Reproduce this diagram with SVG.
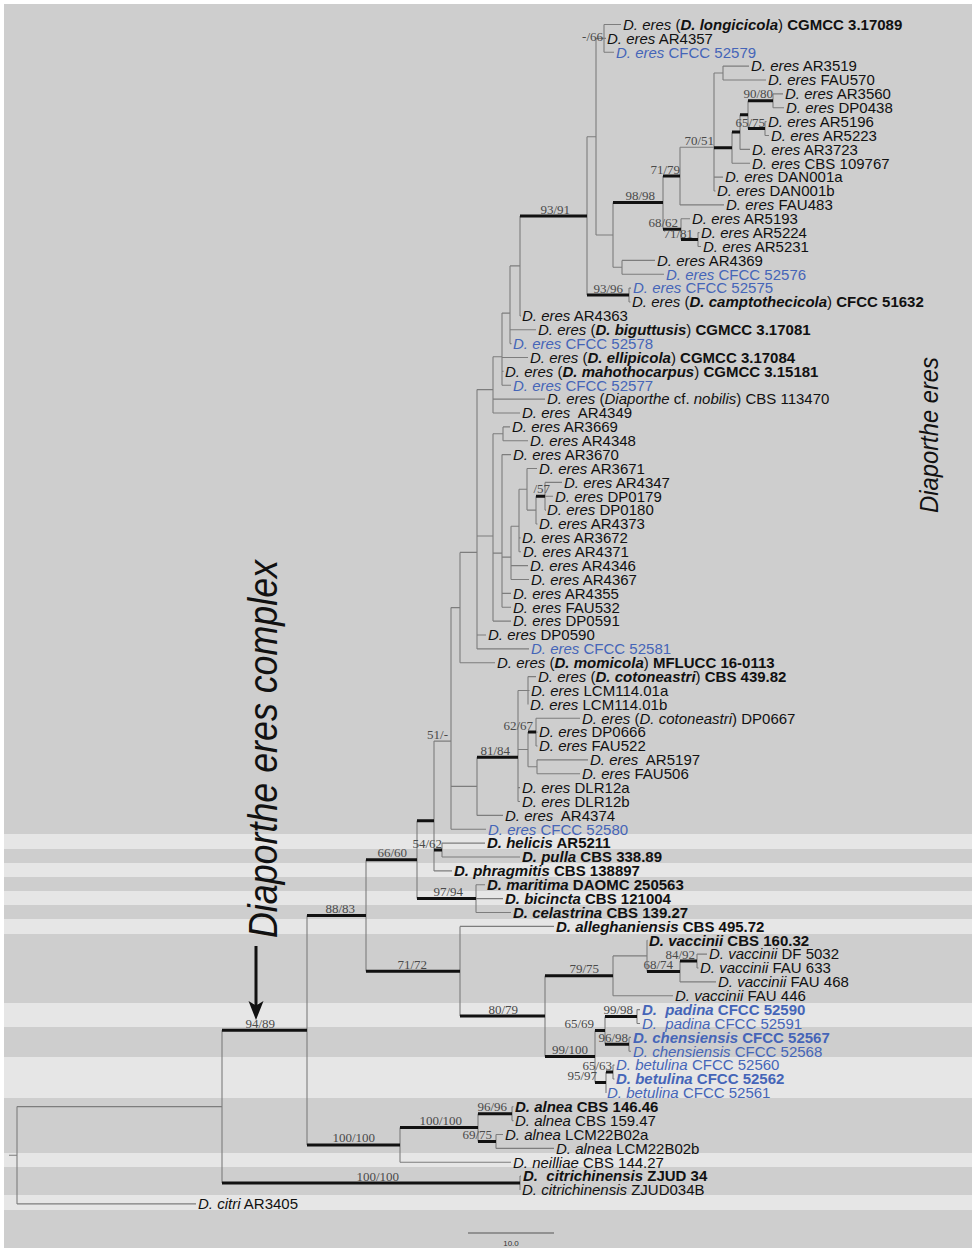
<svg xmlns="http://www.w3.org/2000/svg" width="976" height="1251" viewBox="0 0 976 1251">
<style>
.t{font-family:"Liberation Sans",Arial,sans-serif;font-size:15px;fill:#111;white-space:pre}
.bl{fill:#4565b8}
.i{font-style:italic}
.bi{font-style:italic;font-weight:bold}
.bd{font-weight:bold}
.s{font-family:"Liberation Serif","Times New Roman",serif;font-size:13px;fill:#4a4a4a;text-anchor:end}
.thin{fill:none;stroke:#7d7d7d;stroke-width:1.1}
.thick{fill:none;stroke:#111;stroke-width:3}
.dark{fill:#cecece}
.light{fill:#e6e6e6}
.big{font-family:"Liberation Sans",Arial,sans-serif;font-style:italic;font-size:40px;fill:#111}
.mid{font-family:"Liberation Sans",Arial,sans-serif;font-style:italic;font-size:25px;fill:#111}
</style>
<rect x="0" y="0" width="976" height="1251" fill="#ffffff"/>
<g id="background">
<rect class="dark" x="4" y="4" width="968" height="1244"/>
<rect class="light" x="4" y="834" width="968" height="15"/>
<rect class="light" x="4" y="863" width="968" height="14"/>
<rect class="light" x="4" y="891" width="968" height="14"/>
<rect class="light" x="4" y="919" width="968" height="15"/>
<rect class="light" x="4" y="1003" width="968" height="24"/>
<rect class="light" x="4" y="1057" width="968" height="41"/>
<rect class="light" x="4" y="1153" width="968" height="14"/>
<rect class="light" x="4" y="1195" width="968" height="15"/>
</g>
<g id="connectors">
<path class="thin" d="M604 24.5V52.3M723 66.1V80M773 93.9V107.8M765 121.6V135.5M748 100.8V128.6M740 114.7V149.4M732 132V163.3M714 73V191M680 147.2V204.9M698 232.6V246.5M681 218.8V239.6M663 176V229.2M622 260.4V274.3M613 202.6V267.3M596 38.4V235M629 288.1V302M587 136.7V295M520 215.9V315.9M510 265.9V343.6M502 313.1V385.3M493 356.8V413M503 426.9V440.8M545 482.4V510.1M536 496.3V524M527 468.5V510.1M519 489.3V551.8M511 526.3V579.5M502 454.6V607.3M493 433.8V621.1M477 389.6V648.9M460 552.4V662.8M451 607.6V829.3M528 676.6V704.4M536 718.3V746M537 759.9V773.8M528 732.1V766.8M518 690.5V801.5M477 757.3V815.4M434 741.1V870.9M442 843.1V857M476 884.8V912.5M417 820.7V898.6M366 859.7V971.3M697 954.1V968M680 961.1V981.9M647 940.3V971.5M613 955.9V995.8M637 1009.6V1023.5M629 1037.4V1051.3M605 1016.6V1044.3M613 1065.1V1079M606 1072.1V1092.9M595 1030.4V1082.5M545 975.8V1056.5M460 926.4V1016.1M307 915.5V1144.9M512 1106.8V1120.6M496 1134.5V1148.4M478 1113.7V1141.5M400 1127.6V1162.3M520 1176.1V1190M222 1030.2V1183.1M17 1106.6V1203.9"/>
<path class="thin" d="M596 38.4H604M714 73H723M680 147.2H714M613 267.3H622M596 235H613M587 136.7H596M510 265.9H520M502 313.1H510M493 356.8H502M477 389.6H493M493 433.8H503M527 510.1H536M519 489.3H527M511 526.3H519M502 557.1H511M493 553.1H502M477 536H493M460 552.4H477M451 607.6H460M518 690.5H528M528 766.8H537M518 749.5H528M451 786.4H477M434 741.1H451M613 955.9H647M17 1106.6H222M9 1155.3H17"/>
<path class="thin" d="M604 24.5H621M604 38.4H606M604 52.3H614M723 66.1H749M723 80H766M773 93.9H783M773 107.8H784M765 121.6H766.5M765 135.5H769M740 149.4H750M732 163.3H750M714 177.1H723M714 191H715.5M680 204.9H724M681 218.8H690M698 232.6H699.5M698 246.5H701M622 260.4H655M622 274.3H664M629 288.1H631M629 302H630.5M520 315.9H521M510 329.8H536M510 343.6H511.5M502 357.5H528M502 371.4H503.5M502 385.3H511M493 399.1H545M493 413H520M503 426.9H510M503 440.8H528M502 454.6H511M527 468.5H537M545 482.4H562M545 496.3H553M545 510.1H546M536 524H537.5M519 537.9H520.5M519 551.8H521M511 565.6H528M511 579.5H529M502 593.4H511M502 607.3H511M493 621.1H511M477 635H486M477 648.9H529M460 662.8H495M528 676.6H536M528 690.5H529.5M536 718.3H580M536 732.1H537.5M536 746H537.5M537 759.9H588M537 773.8H580M518 787.6H520M518 801.5H520M477 815.4H503M451 829.3H486M442 843.1H485M442 857H520M434 870.9H452M476 884.8H485M476 898.6H503M476 912.5H511M460 926.4H554M647 940.3H647.5M697 954.1H707M697 968H698.5M680 981.9H716M613 995.8H673M637 1009.6H640M637 1023.5H640M629 1037.4H631M629 1051.3H631M613 1065.1H614.5M613 1079H614.5M512 1106.8H513.5M512 1120.6H513.5M496 1134.5H503M496 1148.4H554M400 1162.3H511M520 1176.1H521M17 1203.9H196"/>
<path class="thick" d="M748 100.8H773M748 128.6H765M740 114.7H748M732 132H740M714 147.7H732M663 176H680M681 239.6H698M663 229.2H681M613 202.6H663M587 295H629M520 215.9H587M536 496.3H545M528 732.1H536M477 757.3H518M434 850.1H442M417 820.7H434M417 898.6H476M366 859.7H417M680 961.1H697M647 971.5H680M545 975.8H613M605 1016.6H637M605 1044.3H629M595 1030.4H605M606 1072.1H613M595 1082.5H606M545 1056.5H595M460 1016.1H545M366 971.3H460M307 915.5H366M478 1113.7H512M478 1141.5H496M400 1127.6H478M307 1144.9H400M222 1030.2H307M222 1183.1H520"/>
</g>
<g id="support">
<text class="s" x="603" y="41">-/66</text>
<text class="s" x="773" y="98">90/80</text>
<text class="s" x="765" y="126.5">65/75</text>
<text class="s" x="714" y="144.5">70/51</text>
<text class="s" x="680" y="173.5">71/79</text>
<text class="s" x="655" y="200">98/98</text>
<text class="s" x="678" y="226.5">68/62</text>
<text class="s" x="693" y="237.5">71/81</text>
<text class="s" x="623" y="292.5">93/96</text>
<text class="s" x="570" y="213.5">93/91</text>
<text class="s" x="550" y="493">/57</text>
<text class="s" x="533" y="729.6">62/67</text>
<text class="s" x="510" y="755">81/84</text>
<text class="s" x="448" y="738.6">51/-</text>
<text class="s" x="442" y="847.5">54/62</text>
<text class="s" x="407" y="857">66/60</text>
<text class="s" x="463" y="896">97/94</text>
<text class="s" x="355" y="913">88/83</text>
<text class="s" x="427" y="968.7">71/72</text>
<text class="s" x="518" y="1013.6">80/79</text>
<text class="s" x="599" y="973.3">79/75</text>
<text class="s" x="695" y="958.5">84/92</text>
<text class="s" x="673" y="969">68/74</text>
<text class="s" x="588" y="1054">99/100</text>
<text class="s" x="594" y="1028">65/69</text>
<text class="s" x="633" y="1014">99/98</text>
<text class="s" x="628" y="1041.8">96/98</text>
<text class="s" x="612" y="1069.5">65/63</text>
<text class="s" x="597" y="1080">95/97</text>
<text class="s" x="275" y="1027.7">94/89</text>
<text class="s" x="375" y="1142.4">100/100</text>
<text class="s" x="462" y="1125">100/100</text>
<text class="s" x="507" y="1111">96/96</text>
<text class="s" x="492" y="1138.5">69/75</text>
<text class="s" x="399" y="1180.5">100/100</text>
</g>
<g id="tip-0"><text class="t" x="623" y="29.8"><tspan class="i">D. eres</tspan> (<tspan class="bi">D. longicicola</tspan>) <tspan class="bd">CGMCC 3.17089</tspan></text></g>
<g id="tip-1"><text class="t" x="607" y="43.7"><tspan class="i">D. eres</tspan> AR4357</text></g>
<g id="tip-2"><text class="t bl" x="616" y="57.6"><tspan class="i">D. eres</tspan> CFCC 52579</text></g>
<g id="tip-3"><text class="t" x="751" y="71.4"><tspan class="i">D. eres</tspan> AR3519</text></g>
<g id="tip-4"><text class="t" x="768" y="85.3"><tspan class="i">D. eres</tspan> FAU570</text></g>
<g id="tip-5"><text class="t" x="785" y="99.2"><tspan class="i">D. eres</tspan> AR3560</text></g>
<g id="tip-6"><text class="t" x="786" y="113.1"><tspan class="i">D. eres</tspan> DP0438</text></g>
<g id="tip-7"><text class="t" x="768" y="126.9"><tspan class="i">D. eres</tspan> AR5196</text></g>
<g id="tip-8"><text class="t" x="771" y="140.8"><tspan class="i">D. eres</tspan> AR5223</text></g>
<g id="tip-9"><text class="t" x="752" y="154.7"><tspan class="i">D. eres</tspan> AR3723</text></g>
<g id="tip-10"><text class="t" x="752" y="168.6"><tspan class="i">D. eres</tspan> CBS 109767</text></g>
<g id="tip-11"><text class="t" x="725" y="182.4"><tspan class="i">D. eres</tspan> DAN001a</text></g>
<g id="tip-12"><text class="t" x="717" y="196.3"><tspan class="i">D. eres</tspan> DAN001b</text></g>
<g id="tip-13"><text class="t" x="726" y="210.2"><tspan class="i">D. eres</tspan> FAU483</text></g>
<g id="tip-14"><text class="t" x="692" y="224.1"><tspan class="i">D. eres</tspan> AR5193</text></g>
<g id="tip-15"><text class="t" x="701" y="237.9"><tspan class="i">D. eres</tspan> AR5224</text></g>
<g id="tip-16"><text class="t" x="703" y="251.8"><tspan class="i">D. eres</tspan> AR5231</text></g>
<g id="tip-17"><text class="t" x="657" y="265.7"><tspan class="i">D. eres</tspan> AR4369</text></g>
<g id="tip-18"><text class="t bl" x="666" y="279.6"><tspan class="i">D. eres</tspan> CFCC 52576</text></g>
<g id="tip-19"><text class="t bl" x="633" y="293.4"><tspan class="i">D. eres</tspan> CFCC 52575</text></g>
<g id="tip-20"><text class="t" x="632" y="307.3"><tspan class="i">D. eres</tspan> (<tspan class="bi">D. camptothecicola</tspan>) <tspan class="bd">CFCC 51632</tspan></text></g>
<g id="tip-21"><text class="t" x="522" y="321.2"><tspan class="i">D. eres</tspan> AR4363</text></g>
<g id="tip-22"><text class="t" x="538" y="335.1"><tspan class="i">D. eres</tspan> (<tspan class="bi">D. biguttusis</tspan>) <tspan class="bd">CGMCC 3.17081</tspan></text></g>
<g id="tip-23"><text class="t bl" x="513" y="348.9"><tspan class="i">D. eres</tspan> CFCC 52578</text></g>
<g id="tip-24"><text class="t" x="530" y="362.8"><tspan class="i">D. eres</tspan> (<tspan class="bi">D. ellipicola</tspan>) <tspan class="bd">CGMCC 3.17084</tspan></text></g>
<g id="tip-25"><text class="t" x="505" y="376.7"><tspan class="i">D. eres</tspan> (<tspan class="bi">D. mahothocarpus</tspan>) <tspan class="bd">CGMCC 3.15181</tspan></text></g>
<g id="tip-26"><text class="t bl" x="513" y="390.6"><tspan class="i">D. eres</tspan> CFCC 52577</text></g>
<g id="tip-27"><text class="t" x="547" y="404.4"><tspan class="i">D. eres</tspan> (<tspan class="i">Diaporthe</tspan> cf. <tspan class="i">nobilis</tspan>) CBS 113470</text></g>
<g id="tip-28"><text class="t" x="522" y="418.3"><tspan class="i">D. eres</tspan>  AR4349</text></g>
<g id="tip-29"><text class="t" x="512" y="432.2"><tspan class="i">D. eres</tspan> AR3669</text></g>
<g id="tip-30"><text class="t" x="530" y="446.1"><tspan class="i">D. eres</tspan> AR4348</text></g>
<g id="tip-31"><text class="t" x="513" y="459.9"><tspan class="i">D. eres</tspan> AR3670</text></g>
<g id="tip-32"><text class="t" x="539" y="473.8"><tspan class="i">D. eres</tspan> AR3671</text></g>
<g id="tip-33"><text class="t" x="564" y="487.7"><tspan class="i">D. eres</tspan> AR4347</text></g>
<g id="tip-34"><text class="t" x="555" y="501.6"><tspan class="i">D. eres</tspan> DP0179</text></g>
<g id="tip-35"><text class="t" x="547" y="515.4"><tspan class="i">D. eres</tspan> DP0180</text></g>
<g id="tip-36"><text class="t" x="539" y="529.3"><tspan class="i">D. eres</tspan> AR4373</text></g>
<g id="tip-37"><text class="t" x="522" y="543.2"><tspan class="i">D. eres</tspan> AR3672</text></g>
<g id="tip-38"><text class="t" x="523" y="557.1"><tspan class="i">D. eres</tspan> AR4371</text></g>
<g id="tip-39"><text class="t" x="530" y="570.9"><tspan class="i">D. eres</tspan> AR4346</text></g>
<g id="tip-40"><text class="t" x="531" y="584.8"><tspan class="i">D. eres</tspan> AR4367</text></g>
<g id="tip-41"><text class="t" x="513" y="598.7"><tspan class="i">D. eres</tspan> AR4355</text></g>
<g id="tip-42"><text class="t" x="513" y="612.6"><tspan class="i">D. eres</tspan> FAU532</text></g>
<g id="tip-43"><text class="t" x="513" y="626.4"><tspan class="i">D. eres</tspan> DP0591</text></g>
<g id="tip-44"><text class="t" x="488" y="640.3"><tspan class="i">D. eres</tspan> DP0590</text></g>
<g id="tip-45"><text class="t bl" x="531" y="654.2"><tspan class="i">D. eres</tspan> CFCC 52581</text></g>
<g id="tip-46"><text class="t" x="497" y="668.1"><tspan class="i">D. eres</tspan> (<tspan class="bi">D. momicola</tspan>) <tspan class="bd">MFLUCC 16-0113</tspan></text></g>
<g id="tip-47"><text class="t" x="538" y="681.9"><tspan class="i">D. eres</tspan> (<tspan class="bi">D. cotoneastri</tspan>) <tspan class="bd">CBS 439.82</tspan></text></g>
<g id="tip-48"><text class="t" x="531" y="695.8"><tspan class="i">D. eres</tspan> LCM114.01a</text></g>
<g id="tip-49"><text class="t" x="530" y="709.7"><tspan class="i">D. eres</tspan> LCM114.01b</text></g>
<g id="tip-50"><text class="t" x="582" y="723.6"><tspan class="i">D. eres</tspan> (<tspan class="i">D. cotoneastri</tspan>) DP0667</text></g>
<g id="tip-51"><text class="t" x="539" y="737.4"><tspan class="i">D. eres</tspan> DP0666</text></g>
<g id="tip-52"><text class="t" x="539" y="751.3"><tspan class="i">D. eres</tspan> FAU522</text></g>
<g id="tip-53"><text class="t" x="590" y="765.2"><tspan class="i">D. eres</tspan>  AR5197</text></g>
<g id="tip-54"><text class="t" x="582" y="779.1"><tspan class="i">D. eres</tspan> FAU506</text></g>
<g id="tip-55"><text class="t" x="522" y="792.9"><tspan class="i">D. eres</tspan> DLR12a</text></g>
<g id="tip-56"><text class="t" x="522" y="806.8"><tspan class="i">D. eres</tspan> DLR12b</text></g>
<g id="tip-57"><text class="t" x="505" y="820.7"><tspan class="i">D. eres</tspan>  AR4374</text></g>
<g id="tip-58"><text class="t bl" x="488" y="834.6"><tspan class="i">D. eres</tspan> CFCC 52580</text></g>
<g id="tip-59"><text class="t bd" x="487" y="848.4"><tspan class="i">D. helicis</tspan> AR5211</text></g>
<g id="tip-60"><text class="t bd" x="522" y="862.3"><tspan class="i">D. pulla</tspan> CBS 338.89</text></g>
<g id="tip-61"><text class="t bd" x="454" y="876.2"><tspan class="i">D. phragmitis</tspan> CBS 138897</text></g>
<g id="tip-62"><text class="t bd" x="487" y="890.1"><tspan class="i">D. maritima</tspan> DAOMC 250563</text></g>
<g id="tip-63"><text class="t bd" x="505" y="903.9"><tspan class="i">D. bicincta</tspan> CBS 121004</text></g>
<g id="tip-64"><text class="t bd" x="513" y="917.8"><tspan class="i">D. celastrina</tspan> CBS 139.27</text></g>
<g id="tip-65"><text class="t bd" x="556" y="931.7"><tspan class="i">D. alleghaniensis</tspan> CBS 495.72</text></g>
<g id="tip-66"><text class="t bd" x="649" y="945.6"><tspan class="i">D. vaccinii</tspan> CBS 160.32</text></g>
<g id="tip-67"><text class="t" x="709" y="959.4"><tspan class="i">D. vaccinii</tspan> DF 5032</text></g>
<g id="tip-68"><text class="t" x="700" y="973.3"><tspan class="i">D. vaccinii</tspan> FAU 633</text></g>
<g id="tip-69"><text class="t" x="718" y="987.2"><tspan class="i">D. vaccinii</tspan> FAU 468</text></g>
<g id="tip-70"><text class="t" x="675" y="1001.1"><tspan class="i">D. vaccinii</tspan> FAU 446</text></g>
<g id="tip-71"><text class="t bd bl" x="642" y="1014.9"><tspan class="i">D.  padina</tspan> CFCC 52590</text></g>
<g id="tip-72"><text class="t bl" x="642" y="1028.8"><tspan class="i">D.  padina</tspan> CFCC 52591</text></g>
<g id="tip-73"><text class="t bd bl" x="633" y="1042.7"><tspan class="i">D. chensiensis</tspan> CFCC 52567</text></g>
<g id="tip-74"><text class="t bl" x="633" y="1056.6"><tspan class="i">D. chensiensis</tspan> CFCC 52568</text></g>
<g id="tip-75"><text class="t bl" x="616" y="1070.4"><tspan class="i">D. betulina</tspan> CFCC 52560</text></g>
<g id="tip-76"><text class="t bd bl" x="616" y="1084.3"><tspan class="i">D. betulina</tspan> CFCC 52562</text></g>
<g id="tip-77"><text class="t bl" x="607" y="1098.2"><tspan class="i">D. betulina</tspan> CFCC 52561</text></g>
<g id="tip-78"><text class="t bd" x="515" y="1112.1"><tspan class="i">D. alnea</tspan> CBS 146.46</text></g>
<g id="tip-79"><text class="t" x="515" y="1125.9"><tspan class="i">D. alnea</tspan> CBS 159.47</text></g>
<g id="tip-80"><text class="t" x="505" y="1139.8"><tspan class="i">D. alnea</tspan> LCM22B02a</text></g>
<g id="tip-81"><text class="t" x="556" y="1153.7"><tspan class="i">D. alnea</tspan> LCM22B02b</text></g>
<g id="tip-82"><text class="t" x="513" y="1167.6"><tspan class="i">D. neilliae</tspan> CBS 144.27</text></g>
<g id="tip-83"><text class="t bd" x="523" y="1181.4"><tspan class="i">D.  citrichinensis</tspan> ZJUD 34</text></g>
<g id="tip-84"><text class="t" x="522" y="1195.3"><tspan class="i">D. citrichinensis</tspan> ZJUD034B</text></g>
<g id="tip-85"><text class="t" x="198" y="1209.2"><tspan class="i">D. citri</tspan> AR3405</text></g>
<g id="clade-eres"><text class="mid" textLength="156" lengthAdjust="spacingAndGlyphs" transform="translate(938 513) rotate(-90)">Diaporthe eres</text></g>
<g id="clade-complex"><text class="big" textLength="378" lengthAdjust="spacingAndGlyphs" transform="translate(277 938) rotate(-90)">Diaporthe eres complex</text>
<path d="M256 946V1006" stroke="#111" stroke-width="3" fill="none"/>
<polygon points="248.5,1001 256,1005.5 263.5,1001 256,1020" fill="#111"/></g>
<g id="scale-bar"><path d="M468 1233H554" stroke="#555" stroke-width="1"/><text x="511" y="1246" font-family="Liberation Sans,Arial,sans-serif" font-size="8" fill="#333" text-anchor="middle">10.0</text></g>
</svg>
